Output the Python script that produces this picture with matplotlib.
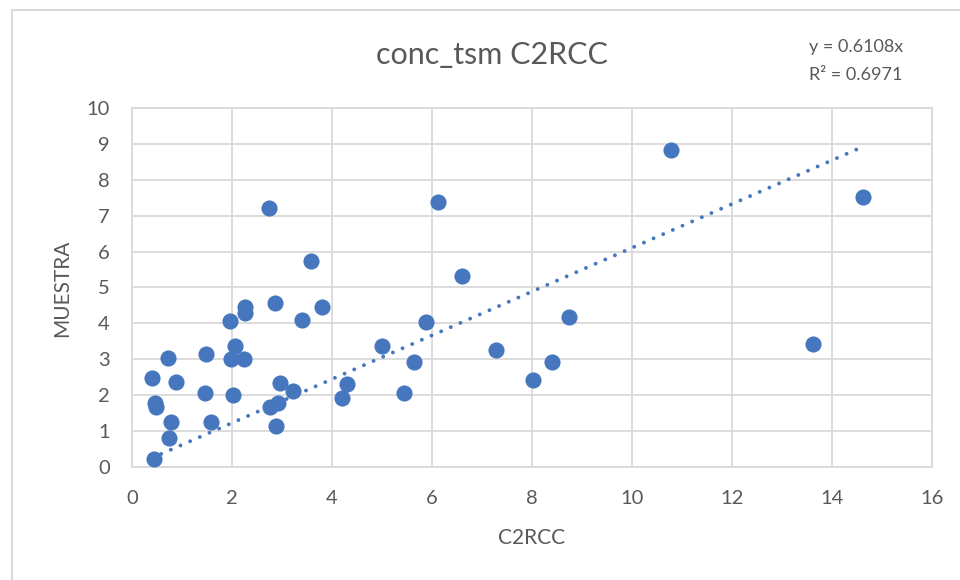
import numpy as np
import matplotlib.pyplot as plt
from matplotlib.patches import Rectangle

# values
c2rcc = [0.39, 0.71, 0.87, 0.45, 0.48, 0.77, 0.73, 0.43, 1.47, 1.45, 1.57,
         1.96, 2.05, 1.98, 2.23, 2.01, 2.25, 2.26, 2.73, 2.86, 3.58, 3.79,
         3.40, 2.96, 3.21, 2.75, 2.91, 2.87, 4.19, 4.29, 5.00, 5.43, 5.64,
         5.87, 6.11, 6.60, 7.27, 8.02, 8.40, 8.73, 10.78, 13.61, 14.61]
muestra = [2.47, 3.04, 2.37, 1.79, 1.67, 1.26, 0.79, 0.21, 3.14, 2.05, 1.26,
           4.07, 3.38, 3.00, 3.00, 2.00, 4.46, 4.30, 7.21, 4.58, 5.75, 4.45,
           4.09, 2.33, 2.11, 1.66, 1.77, 1.14, 1.93, 2.31, 3.38, 2.07, 2.93,
           4.03, 7.39, 5.32, 3.25, 2.42, 2.93, 4.19, 8.84, 3.43, 7.53]
slope = 0.6108
r2 = 0.6971

blue = '#4677BE'
grey_txt = '#595959'
grid_col = '#D9D9D9'
plt.rcParams['font.family'] = ['Lato', 'DejaVu Sans']

W, H = 960, 580
fig = plt.figure(figsize=(W / 100, H / 100), dpi=100)
ax = fig.add_axes([132 / W, 1 - 466.7 / H, 800 / W, 358.4 / H])

ax.scatter(c2rcc, muestra, s=135, color=blue, zorder=3, linewidths=0)

# trendline through origin, drawn over the data range
xt = np.array([min(c2rcc), max(c2rcc)])
ax.plot(xt, slope * xt, color=blue, lw=2.8, linestyle=(0, (0.01, 2.7)),
        dash_capstyle='round', zorder=2)

ax.set_xlim(0, 16)
ax.set_ylim(0, 10)
ax.set_xticks(range(0, 17, 2))
ax.set_yticks(range(0, 11))
ax.grid(True, color=grid_col, lw=1.3)
ax.set_axisbelow(True)
for s in ax.spines.values():
    s.set_color(grid_col)
    s.set_linewidth(1.3)
ax.tick_params(length=0, labelsize=14.5, labelcolor=grey_txt)
ax.tick_params(axis='y', pad=16)
ax.tick_params(axis='x', pad=17)

fig.text(492 / W, 1 - 55 / H, 'conc_tsm C2RCC', ha='center', va='center',
         fontsize=22, color=grey_txt)
fig.text(532 / W, 1 - 538 / H, 'C2RCC', ha='center', va='center',
         fontsize=15, color=grey_txt)
fig.text(62 / W, 1 - 288 / H, 'MUESTRA', ha='center', va='center',
         rotation=90, fontsize=15, color=grey_txt)
fig.text(856 / W, 1 - 47 / H, 'y = %.4fx' % slope, ha='center', va='center',
         fontsize=13, color=grey_txt)
fig.text(856 / W, 1 - 75 / H, 'R² = %.4f' % r2, ha='center', va='center',
         fontsize=13, color=grey_txt)

# chart area border
fig.patches.append(Rectangle((12 / W, -0.1), 1.2, 1.1 - 10 / H,
                             transform=fig.transFigure, fill=False,
                             edgecolor='#D9D9D9', lw=1.5))

fig.savefig('out.png', dpi=100)
